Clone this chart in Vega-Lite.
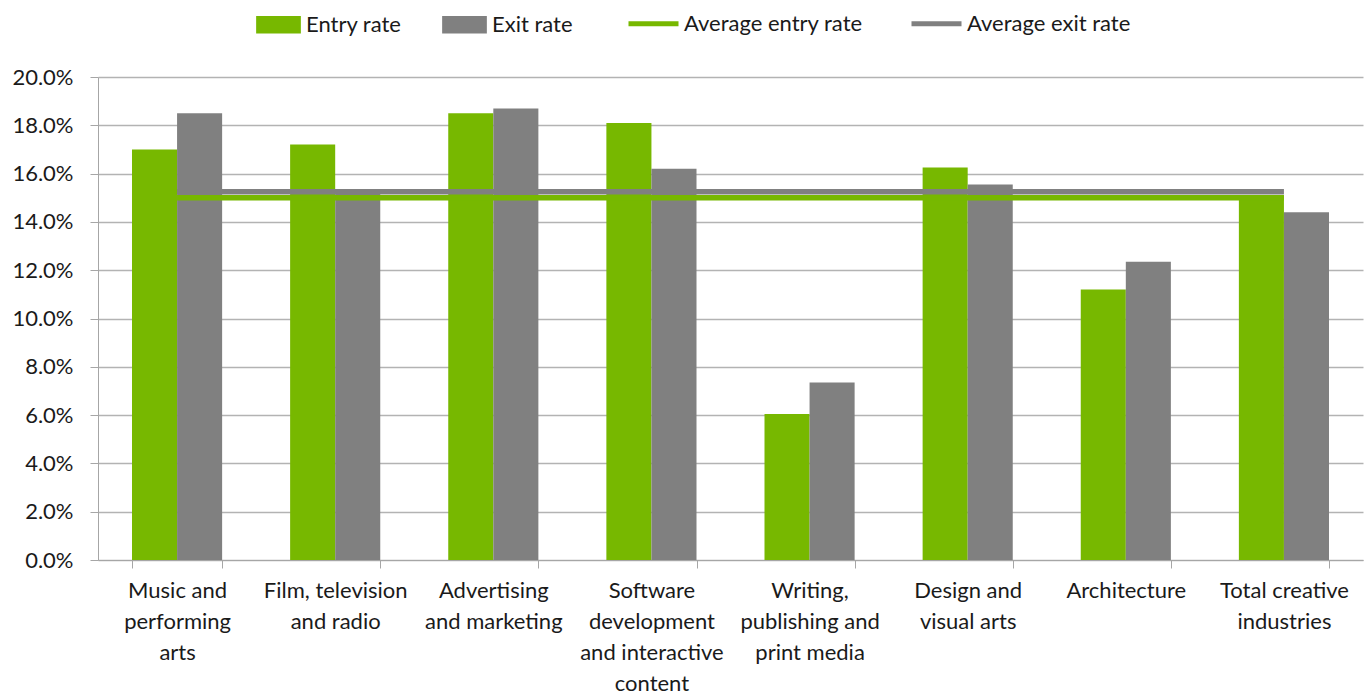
{
  "$schema": "https://vega.github.io/schema/vega-lite/v6.json",
  "autosize": {"type": "none"},
  "width": 1265,
  "height": 483,
  "padding": {"left": 98, "top": 77, "right": 9, "bottom": 137},
  "background": "white",
  "config": {
    "font": "Lato",
    "view": {"stroke": null},
    "axis": {"labelFont": "Lato", "labelFontSize": 22, "labelColor": "#1a1a1a", "domainColor": "#a6a6a6", "tickColor": "#a6a6a6", "gridColor": "#b3b3b3", "title": null},
    "legend": {"labelFont": "Lato", "labelFontSize": 22, "labelColor": "#1a1a1a", "labelLimit": 400}
  },
  "data": {
    "values": [
      {"category": "Music and|performing|arts", "series": "Entry rate", "value": 0.170},
      {"category": "Music and|performing|arts", "series": "Exit rate", "value": 0.185},
      {"category": "Film, television|and radio", "series": "Entry rate", "value": 0.172},
      {"category": "Film, television|and radio", "series": "Exit rate", "value": 0.153},
      {"category": "Advertising|and marketing", "series": "Entry rate", "value": 0.185},
      {"category": "Advertising|and marketing", "series": "Exit rate", "value": 0.187},
      {"category": "Software|development|and interactive|content", "series": "Entry rate", "value": 0.181},
      {"category": "Software|development|and interactive|content", "series": "Exit rate", "value": 0.162},
      {"category": "Writing,|publishing and|print media", "series": "Entry rate", "value": 0.0605},
      {"category": "Writing,|publishing and|print media", "series": "Exit rate", "value": 0.0735},
      {"category": "Design and|visual arts", "series": "Entry rate", "value": 0.1625},
      {"category": "Design and|visual arts", "series": "Exit rate", "value": 0.1555},
      {"category": "Architecture", "series": "Entry rate", "value": 0.112},
      {"category": "Architecture", "series": "Exit rate", "value": 0.1235},
      {"category": "Total creative|industries", "series": "Entry rate", "value": 0.151},
      {"category": "Total creative|industries", "series": "Exit rate", "value": 0.144},
      {"category": "Music and|performing|arts", "series": "Average entry rate", "value": 0.150},
      {"category": "Film, television|and radio", "series": "Average entry rate", "value": 0.150},
      {"category": "Advertising|and marketing", "series": "Average entry rate", "value": 0.150},
      {"category": "Software|development|and interactive|content", "series": "Average entry rate", "value": 0.150},
      {"category": "Writing,|publishing and|print media", "series": "Average entry rate", "value": 0.150},
      {"category": "Design and|visual arts", "series": "Average entry rate", "value": 0.150},
      {"category": "Architecture", "series": "Average entry rate", "value": 0.150},
      {"category": "Total creative|industries", "series": "Average entry rate", "value": 0.150},
      {"category": "Music and|performing|arts", "series": "Average exit rate", "value": 0.1525},
      {"category": "Film, television|and radio", "series": "Average exit rate", "value": 0.1525},
      {"category": "Advertising|and marketing", "series": "Average exit rate", "value": 0.1525},
      {"category": "Software|development|and interactive|content", "series": "Average exit rate", "value": 0.1525},
      {"category": "Writing,|publishing and|print media", "series": "Average exit rate", "value": 0.1525},
      {"category": "Design and|visual arts", "series": "Average exit rate", "value": 0.1525},
      {"category": "Architecture", "series": "Average exit rate", "value": 0.1525},
      {"category": "Total creative|industries", "series": "Average exit rate", "value": 0.1525}
    ]
  },
  "encoding": {
    "x": {
      "field": "category",
      "type": "nominal",
      "sort": null,
      "scale": {"paddingInner": 0.43, "paddingOuter": 0.215},
      "axis": {"labelAngle": 0, "labelExpr": "split(datum.label, '|')", "labelLineHeight": 31, "labelBaseline": "top", "labelPadding": 12, "tickSize": 8, "tickBand": "extent", "grid": false, "labelLimit": 200}
    },
    "y": {
      "field": "value",
      "type": "quantitative",
      "scale": {"domain": [0, 0.2], "nice": false},
      "axis": {"format": ".1%", "values": [0, 0.02, 0.04, 0.06, 0.08, 0.1, 0.12, 0.14, 0.16, 0.18, 0.2], "tickSize": 8, "labelPadding": 17, "grid": true, "gridWidth": 1.5}
    }
  },
  "layer": [
    {
      "transform": [{"filter": "datum.series === 'Entry rate' || datum.series === 'Exit rate'"}],
      "mark": {"type": "bar"},
      "encoding": {
        "xOffset": {"field": "series", "type": "nominal", "scale": {"domain": ["Entry rate", "Exit rate"], "paddingInner": 0, "paddingOuter": 0}},
        "color": {
          "field": "series",
          "type": "nominal",
          "scale": {"domain": ["Entry rate", "Exit rate"], "range": ["#77b800", "#808080"]},
          "legend": {"title": null, "orient": "none", "direction": "horizontal", "legendX": 158, "legendY": -75, "symbolType": "M-1,-0.39H1V0.39H-1Z", "symbolSize": 2000, "symbolStrokeWidth": 0, "symbolOpacity": 1, "labelOffset": 5, "columnPadding": 40}
        }
      }
    },
    {
      "transform": [{"filter": "datum.series === 'Average entry rate' || datum.series === 'Average exit rate'"}],
      "mark": {"type": "line", "strokeWidth": 5.5},
      "encoding": {
        "stroke": {
          "field": "series",
          "type": "nominal",
          "scale": {"domain": ["Average entry rate", "Average exit rate"], "range": ["#77b800", "#808080"]},
          "legend": {"title": null, "orient": "none", "direction": "horizontal", "legendX": 528, "legendY": -81, "symbolType": "stroke", "symbolSize": 2500, "symbolStrokeWidth": 5, "labelOffset": 3, "columnPadding": 38}
        }
      }
    }
  ]
}
